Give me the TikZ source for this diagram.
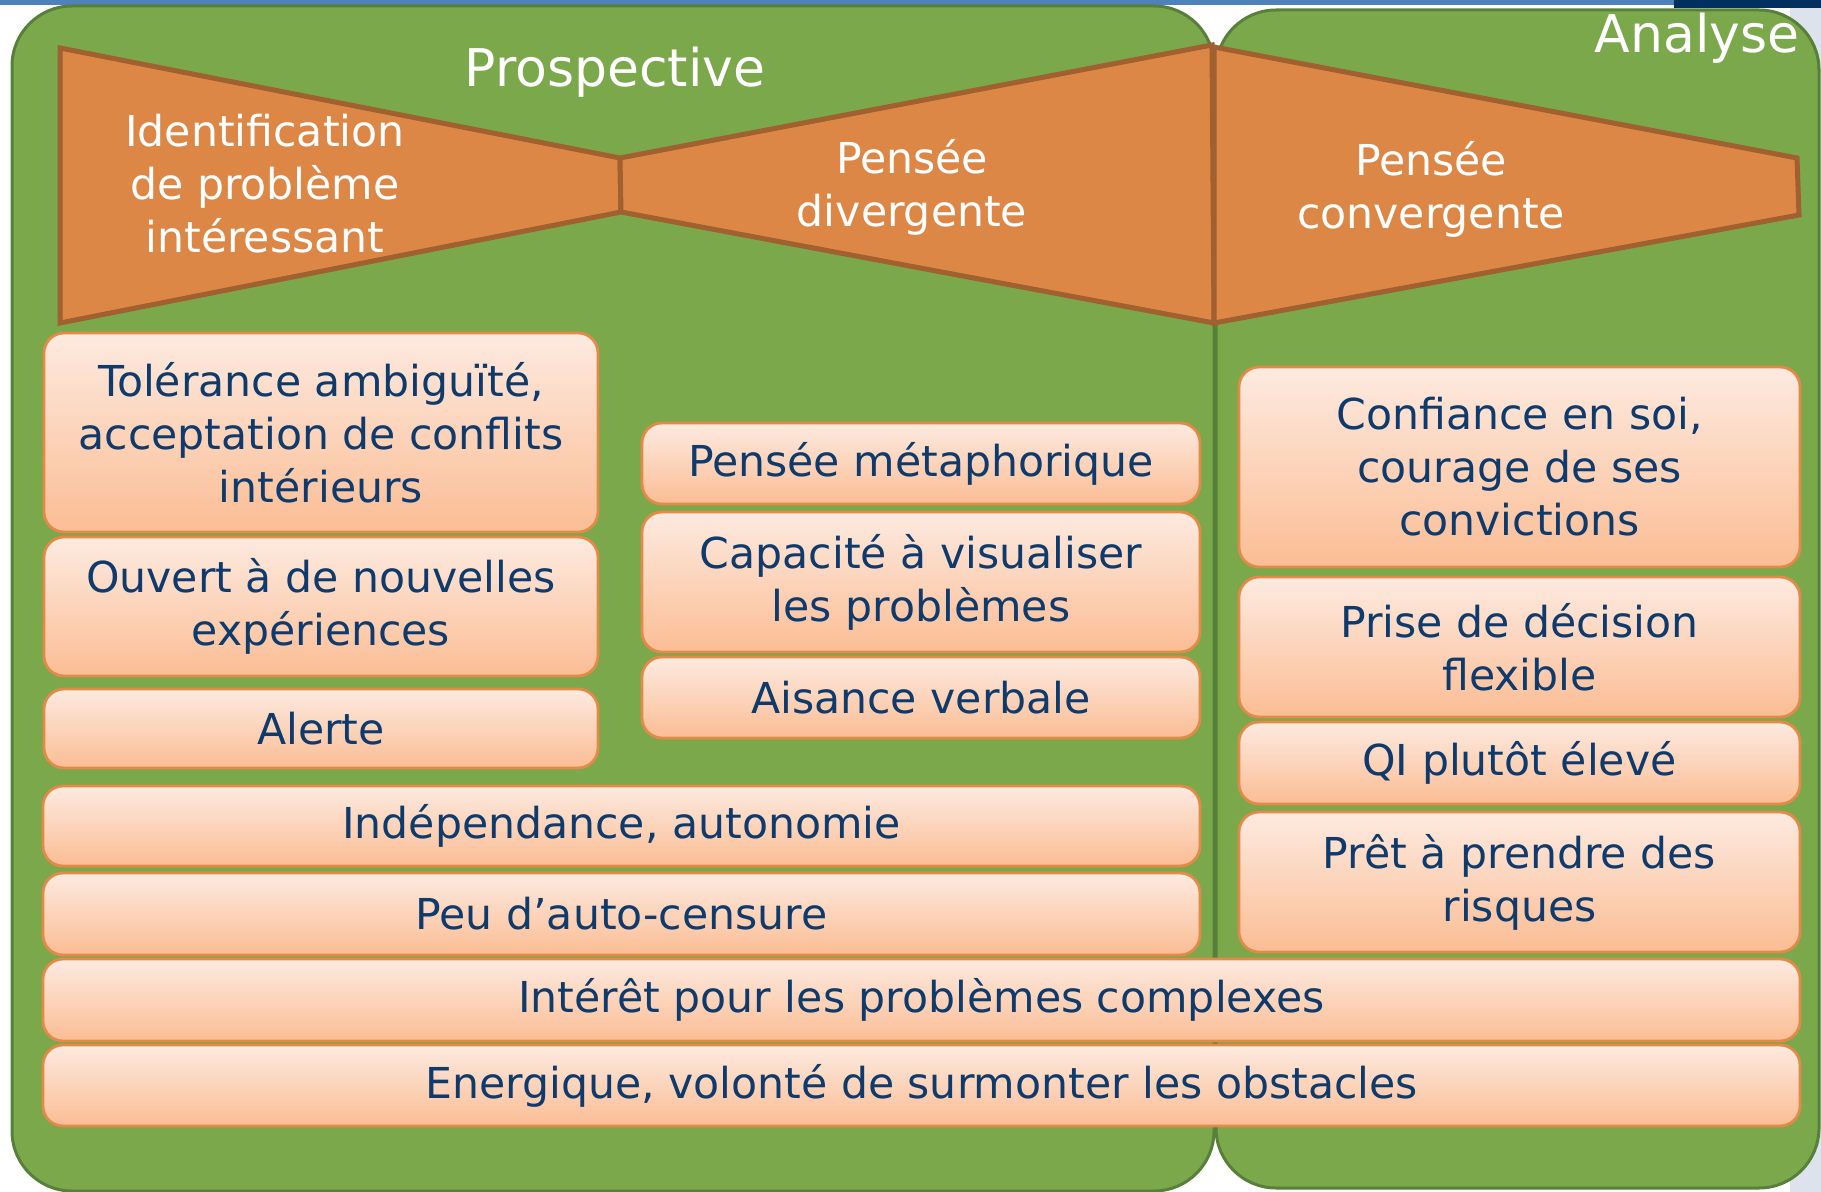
\documentclass[tikz,border=0pt]{standalone}
\usepackage{fontspec}
\setmainfont{DejaVu Sans}
\newcommand\boxfont{\fontsize{21.3pt}{26.5pt}\selectfont}
\newcommand\titlefont{\fontsize{26pt}{30pt}\selectfont}
\definecolor{pgreen}{HTML}{7AA84B}
\definecolor{pgreenb}{HTML}{58803A}
\definecolor{bow}{HTML}{DD8746}
\definecolor{bowb}{HTML}{A0602F}
\definecolor{boxtop}{HTML}{FDEAE0}
\definecolor{boxbot}{HTML}{FBBD94}
\definecolor{boxb}{HTML}{E48A48}
\definecolor{navy}{HTML}{0E3A6C}
\definecolor{topblue}{HTML}{4F81BD}
\definecolor{topnavy}{HTML}{00305F}
\definecolor{edgegray}{HTML}{DCE3EC}
\begin{document}
\begin{tikzpicture}[x=0.5pt,y=-0.5pt,
  panel/.style={fill=pgreen,draw=pgreenb,line width=1.5pt,rounded corners=30pt},
  bowpiece/.style={fill=bow,draw=bowb,line width=2.5pt},
  cbox/.style={draw=boxb,line width=1.4pt,rounded corners=10pt,top color=boxtop,bottom color=boxbot,text=navy,font=\boxfont,align=center,inner sep=0pt},
  wtext/.style={text=white,font=\boxfont,align=center,inner sep=0pt},
  ttext/.style={text=white,font=\titlefont,inner sep=0pt}]
\useasboundingbox (0,0) rectangle (1821,1192);
\clip (0,0) rectangle (1821,1192);
\fill[white] (0,0) rectangle (1821,1192);
\fill[edgegray] (1790,8) rectangle (1821,1192);
\draw[white,line width=1.5pt,fill=bow] (119,-50) circle[radius=61];
\fill[topblue] (0,0) rectangle (1674,5);
\fill[topnavy] (1674,0) rectangle (1821,8);
% panels
\draw[panel] (12,6) rectangle (1214,1191);
\draw[panel] (1216,10) rectangle (1819,1188);
% bowtie
\draw[bowpiece] (60,48) -- (620,158) -- (621,212) -- (60,323) -- cycle;
\draw[bowpiece] (620,158) -- (1212,45) -- (1214,323) -- (621,212) -- cycle;
\draw[bowpiece] (1214,47) -- (1797,158) -- (1799,215) -- (1214,323) -- cycle;
% titles
\node[ttext,anchor=base] (tpros) at (615,87) {Prospective};
\node[ttext,anchor=base east] (tana) at (1800,53) {Analyse};
\node[wtext] (tid) at (265,184) {Identification\\de problème\\intéressant};
\node[wtext] (tdiv) at (912,187) {Pensée\\divergente};
\node[wtext] (tconv) at (1431,189) {Pensée\\convergente};
% boxes
\node[cbox,minimum width=277pt,minimum height=99.5pt] (b1) at (321,432.5) {Tolérance ambiguïté,\\acceptation de conflits\\intérieurs};
\node[cbox,minimum width=277pt,minimum height=69.5pt] (b2) at (321,606.5) {Ouvert à de nouvelles\\expériences};
\node[cbox,minimum width=277pt,minimum height=39.5pt] (b3) at (321,728.5) {Alerte};
\node[cbox,minimum width=279pt,minimum height=40.5pt] (b4) at (921,463.5) {Pensée métaphorique};
\node[cbox,minimum width=279pt,minimum height=70pt] (b5) at (921,582) {Capacité à visualiser\\les problèmes};
\node[cbox,minimum width=279pt,minimum height=40.5pt] (b6) at (921,697.5) {Aisance verbale};
\node[cbox,minimum width=578.5pt,minimum height=40pt] (b7) at (621.5,826) {Indépendance, autonomie};
\node[cbox,minimum width=578.5pt,minimum height=41pt] (b8) at (621.5,914) {Peu d’auto-censure};
\node[cbox,minimum width=280.5pt,minimum height=100pt] (b9) at (1519.5,467) {Confiance en soi,\\courage de ses\\convictions};
\node[cbox,minimum width=280.5pt,minimum height=70pt] (b10) at (1519.5,647) {Prise de décision\\flexible};
\node[cbox,minimum width=280.5pt,minimum height=41pt] (b11) at (1519.5,763) {QI plutôt élevé};
\node[cbox,minimum width=280.5pt,minimum height=70pt] (b12) at (1519.5,882) {Prêt à prendre des\\risques};
\node[cbox,minimum width=878.5pt,minimum height=41pt] (b13) at (921.5,1000) {Intérêt pour les problèmes complexes};
\node[cbox,minimum width=878.5pt,minimum height=40.5pt] (b14) at (921.5,1085.5) {Energique, volonté de surmonter les obstacles};
\end{tikzpicture}
\end{document}
